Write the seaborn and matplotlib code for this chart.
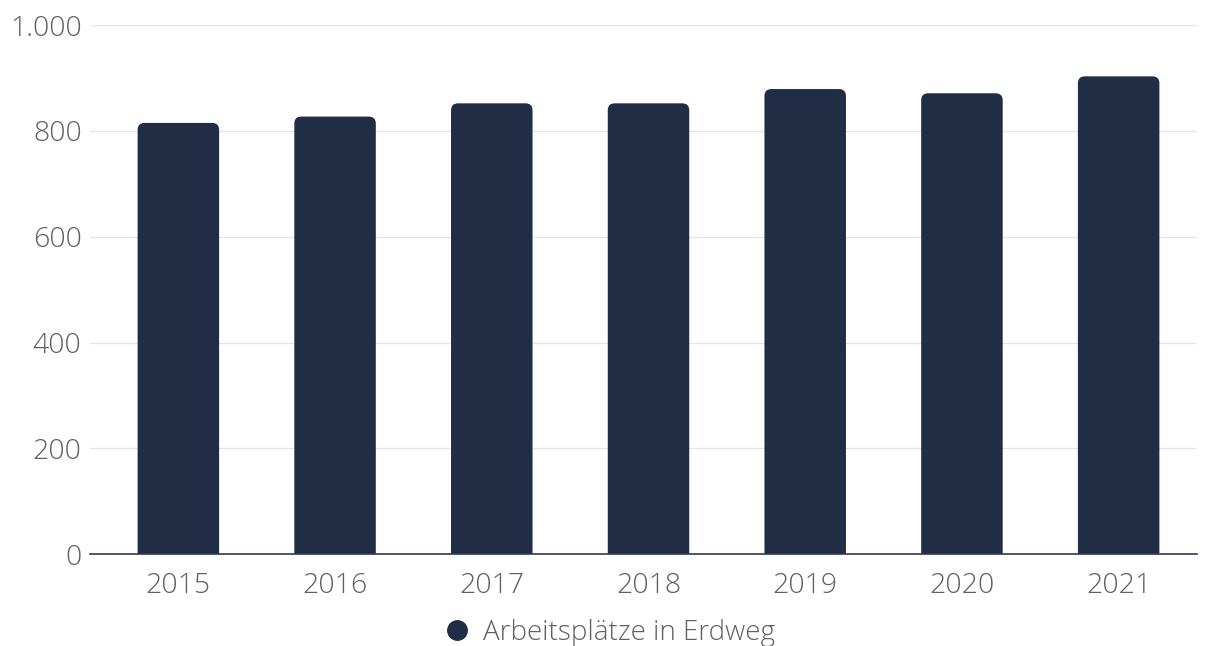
import pandas as pd
import matplotlib
matplotlib.use("Agg")
import matplotlib.pyplot as plt
from matplotlib.patches import FancyBboxPatch
from matplotlib.lines import Line2D
import seaborn as sns

years = ["2015", "2016", "2017", "2018", "2019", "2020", "2021"]
jobs = [815, 827, 852, 852, 879, 871, 903]
series_name = "Arbeitsplätze in Erdweg"
ytick_values = [0, 200, 400, 600, 800, 1000]
ytick_labels = ["0", "200", "400", "600", "800", "1.000"]

bar_color = "#212c45"
text_color = "#606060"

sns.set_theme(style="white")
plt.rcParams["font.family"] = ["Open Sans", "DejaVu Sans"]
plt.rcParams["font.weight"] = "light"

df = pd.DataFrame({"Jahr": years, "Arbeitsplätze": jobs})

fig = plt.figure(figsize=(12.18, 6.46), dpi=100)
ax = fig.add_axes([90 / 1218, 1 - 554.3 / 646, (1197 - 90) / 1218, (554.3 - 25) / 646])

sns.barplot(data=df, x="Jahr", y="Arbeitsplätze", color=bar_color, width=0.52,
            saturation=1, ax=ax)

ax.set_ylim(0, 1000)
ax.set_xlim(-0.5 - 10 / 156.7, 6.5)

# swap the square bars for ones with rounded top corners
px_x = 156.7          # pixels per category
px_y = 0.5291         # pixels per unit
radius_x = 7 / px_x
for p in list(ax.patches):
    x0, w, h = p.get_x(), p.get_width(), p.get_height()
    p.remove()
    rb = FancyBboxPatch((x0, -40), w, h + 40,
                        boxstyle=f"round,pad=0,rounding_size={radius_x}",
                        mutation_aspect=(px_x / px_y),
                        facecolor=bar_color, edgecolor="none", zorder=2)
    ax.add_patch(rb)

ax.set_yticks(ytick_values)
ax.set_yticklabels(ytick_labels)
ax.grid(axis="y", color="#e6e6e6", linewidth=1)
ax.set_axisbelow(True)
for s in ["top", "right", "left"]:
    ax.spines[s].set_visible(False)
ax.spines["bottom"].set_color("#2e3a50")
ax.spines["bottom"].set_linewidth(1.2)
ax.spines["bottom"].set_zorder(3)

ax.tick_params(axis="y", length=0, pad=6, labelsize=20.5, labelcolor=text_color)
ax.tick_params(axis="x", length=0, pad=13, labelsize=20.5, labelcolor=text_color)
ax.set_xlabel("")
ax.set_ylabel("")

handle = Line2D([], [], marker="o", linestyle="none", markersize=14,
                markerfacecolor=bar_color, markeredgecolor=bar_color)
fig.legend([handle], [series_name], loc="center", bbox_to_anchor=(0.5, 0.02),
           frameon=False, fontsize=20, labelcolor=text_color,
           handlelength=1.0, handletextpad=0.45)

fig.savefig("out.png", dpi=100)
